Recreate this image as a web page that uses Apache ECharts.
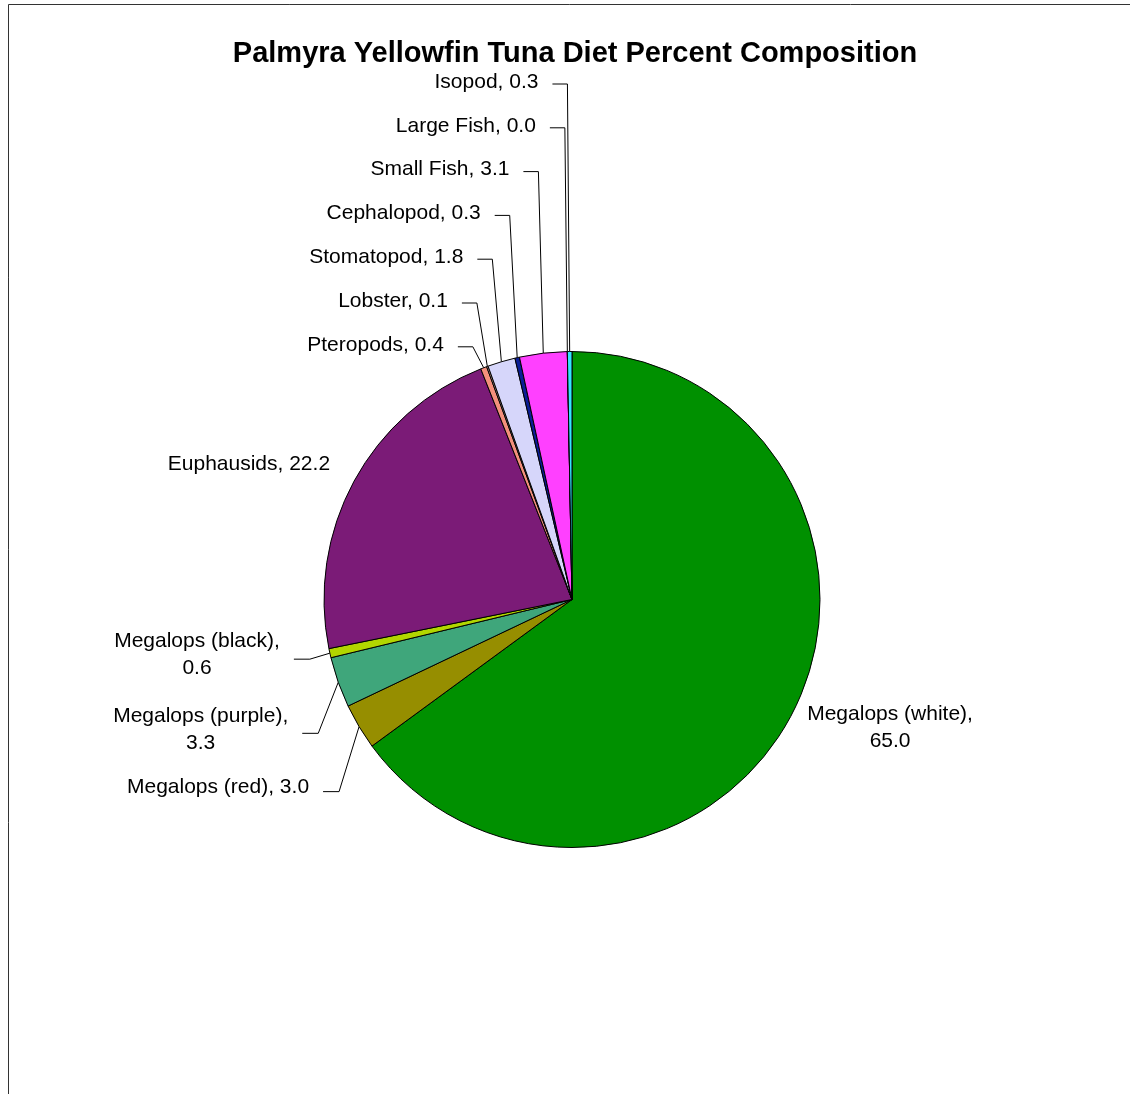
<!DOCTYPE html>
<html>
<head>
<meta charset="utf-8">
<title>Palmyra Yellowfin Tuna Diet Percent Composition</title>
<script src="https://cdn.jsdelivr.net/npm/echarts@6/dist/echarts.min.js"></script>
<style>
  html, body { margin: 0; padding: 0; background: #ffffff; }
  #chart { width: 1130px; height: 1094px; }
</style>
</head>
<body>
<div id="chart"></div>
<script>
// Diet categories, in clockwise order starting at 12 o'clock
const categories = [
  'Megalops (white)', 'Megalops (red)', 'Megalops (purple)', 'Megalops (black)',
  'Euphausids', 'Pteropods', 'Lobster', 'Stomatopod', 'Cephalopod',
  'Small Fish', 'Large Fish', 'Isopod'
];
// Percent composition of each category
const percents = [65.0, 3.0, 3.3, 0.6, 22.2, 0.4, 0.1, 1.8, 0.3, 3.1, 0.0, 0.3];
// Slice fill colours
const sliceColors = [
  '#009000', '#968e00', '#3fa67b', '#b2d600',
  '#7b1b77', '#f4907c', '#c8a08c', '#d6d6fa', '#0a1e96',
  '#ff40ff', '#999999', '#33e6ff'
];
// Labels that wrap onto two lines
const wrappedLabels = ['Megalops (white)', 'Megalops (purple)', 'Megalops (black)'];
// Labels placed right beside their slice, without a leader line
const unlinkedLabels = ['Megalops (white)', 'Euphausids'];

const CX = 572, CY = 599.5, R = 248;
const FONT = '"Liberation Sans", Arial, Helvetica, sans-serif';
const total = percents.reduce((a, b) => a + b, 0);

// Point on the pie rim at the middle of slice i
function rimPoint(i) {
  let before = 0;
  for (let k = 0; k < i; k++) before += percents[k];
  const a = (before + percents[i] / 2) / total * Math.PI * 2;
  return [CX + R * Math.sin(a), CY - R * Math.cos(a)];
}

// Leader-line drops (px below the rim point) for the lower-left labels
const leftDrop = { 1: 65, 2: 51, 3: 6 };

const seriesData = categories.map((name, i) => {
  const item = { name: name, value: percents[i], itemStyle: { color: sliceColors[i] } };
  if (unlinkedLabels.indexOf(name) >= 0) item.labelLine = { show: false };
  return item;
});

function labelPlacement(params) {
  const i = params.dataIndex;
  const name = categories[i];
  const p = rimPoint(i);
  const w = params.labelRect.width;

  if (name === 'Megalops (white)') {
    return { x: p[0] + 14 + w / 2, y: p[1] + 16, align: 'center', verticalAlign: 'middle' };
  }
  if (name === 'Euphausids') {
    return { x: p[0] - 24, y: p[1] - 17, align: 'right', verticalAlign: 'middle' };
  }
  if (leftDrop[i] !== undefined) {
    const lineY = p[1] + leftDrop[i];
    const elbowX = p[0] - 20;
    const endX = elbowX - 16;
    const textRight = endX - 14;
    const wrapped = wrappedLabels.indexOf(name) >= 0;
    return {
      x: wrapped ? textRight - w / 2 : textRight,
      y: lineY - 4,
      align: wrapped ? 'center' : 'right',
      verticalAlign: 'middle',
      labelLinePoints: [p, [elbowX, lineY], [endX, lineY]]
    };
  }
  // small slices at the top: stacked column of labels, Isopod on top
  const row = categories.length - 1 - i;
  const lineY = 84 + 43.8 * row;
  const elbowX = p[0] - 2 - 0.1 * (CX - p[0]);
  const endX = elbowX - 15;
  return {
    x: endX - 14,
    y: lineY - 2,
    align: 'right',
    verticalAlign: 'middle',
    labelLinePoints: [p, [elbowX, lineY], [endX, lineY]]
  };
}

const chart = echarts.init(document.getElementById('chart'), null, { renderer: 'canvas' });
chart.setOption({
  backgroundColor: '#ffffff',
  animation: false,
  title: {
    text: 'Palmyra Yellowfin Tuna Diet Percent Composition',
    left: 570,
    textAlign: 'center',
    top: 34,
    textStyle: { fontFamily: FONT, fontSize: 29, fontWeight: 'bold', color: '#000000' }
  },
  graphic: [{
    type: 'rect',
    silent: true,
    shape: { x: 8.5, y: 4.5, width: 1400, height: 1400 },
    style: { fill: 'none', stroke: '#333333', lineWidth: 1 }
  }],
  series: [{
    type: 'pie',
    center: [CX, CY],
    radius: R,
    startAngle: 90,
    clockwise: true,
    avoidLabelOverlap: false,
    stillShowZeroSum: true,
    itemStyle: { borderColor: '#000000', borderWidth: 1 },
    emphasis: { disabled: true },
    label: {
      show: true,
      position: 'outside',
      fontFamily: FONT,
      fontSize: 21,
      lineHeight: 27,
      color: '#000000',
      formatter: function (p) {
        const sep = wrappedLabels.indexOf(p.name) >= 0 ? ',\n' : ', ';
        return p.name + sep + p.value.toFixed(1);
      }
    },
    labelLine: {
      show: true,
      smooth: false,
      lineStyle: { color: '#000000', width: 1 }
    },
    labelLayout: labelPlacement,
    data: seriesData
  }]
});
</script>
</body>
</html>
